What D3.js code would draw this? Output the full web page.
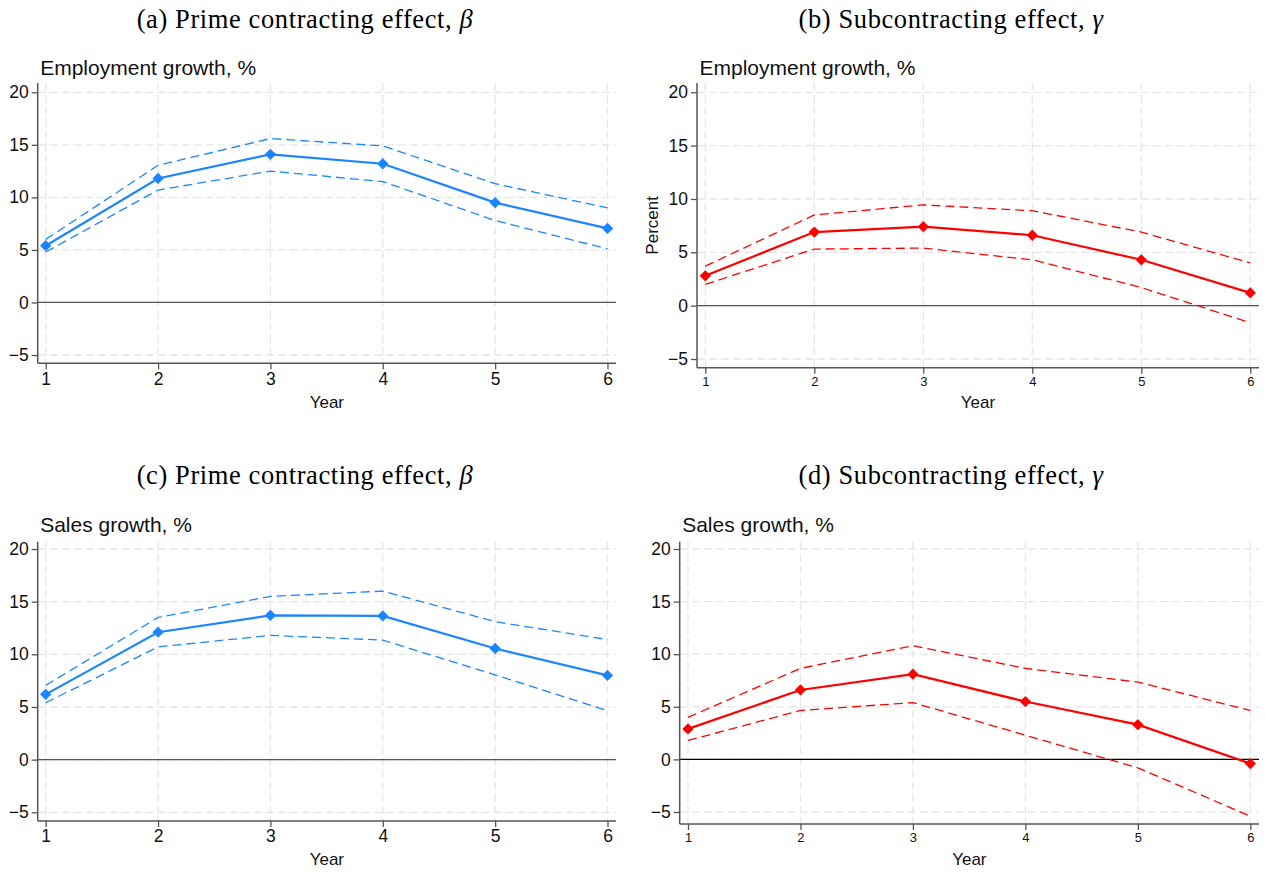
<!DOCTYPE html>
<html>
<head>
<meta charset="utf-8">
<script src="https://cdn.jsdelivr.net/npm/d3@7"></script>
<style>
  html, body { margin: 0; padding: 0; background: #fff; }
  svg { display: block; }
</style>
</head>
<body>
<div id="chart"></div>
<script>
// Data
const years = [1, 2, 3, 4, 5, 6];
const yTicks = [-5, 0, 5, 10, 15, 20];

const empPrimeEst = [5.4, 11.8, 14.1, 13.2, 9.5, 7.05];
const empPrimeHi  = [6.0, 13.05, 15.6, 14.9, 11.3, 9.0];
const empPrimeLo  = [4.8, 10.7, 12.5, 11.5, 7.8, 5.1];

const empSubEst = [2.8, 6.9, 7.4, 6.6, 4.3, 1.2];
const empSubHi  = [3.7, 8.5, 9.45, 8.9, 6.9, 4.0];
const empSubLo  = [2.0, 5.3, 5.4, 4.3, 1.7, -1.6];

const salesPrimeEst = [6.2, 12.1, 13.7, 13.65, 10.55, 8.0];
const salesPrimeHi  = [7.05, 13.5, 15.5, 16.0, 13.1, 11.4];
const salesPrimeLo  = [5.4, 10.7, 11.8, 11.35, 8.05, 4.65];

const salesSubEst = [2.9, 6.6, 8.1, 5.5, 3.3, -0.4];
const salesSubHi  = [4.0, 8.65, 10.8, 8.65, 7.35, 4.65];
const salesSubLo  = [1.8, 4.65, 5.4, 2.3, -0.8, -5.4];

// title text + greek symbol (set in italic)
const titles = [
  ["(a) Prime contracting effect, ", "\u03b2"],
  ["(b) Subcontracting effect, ", "\u03b3"],
  ["(c) Prime contracting effect, ", "\u03b2"],
  ["(d) Subcontracting effect, ", "\u03b3"]
];
const subtitles = ["Employment growth, %", "Employment growth, %", "Sales growth, %", "Sales growth, %"];

const blue = "#1a85ff";
const red = "#ff0000";

// Panel layout (pixel geometry only)
const panels = [
  { title: titles[0], sub: subtitles[0], est: empPrimeEst, hi: empPrimeHi, lo: empPrimeLo, color: blue,
    left: 37.7, right: 616, top: 83, bottom: 363.3, x0: 45.7, x1: 607.5, yLo: 355, yHi: 92.3,
    titleX: 305, titleY: 28, subY: 75, xLabY: 408, xTickSize: 17.5, zeroColor: "#555", yTitle: null },
  { title: titles[1], sub: subtitles[1], est: empSubEst, hi: empSubHi, lo: empSubLo, color: red,
    left: 697, right: 1259, top: 83, bottom: 367.7, x0: 705.3, x1: 1250.3, yLo: 359, yHi: 92.3,
    titleX: 951, titleY: 28, subY: 75, xLabY: 408, xTickSize: 13, zeroColor: "#555", yTitle: "Percent" },
  { title: titles[2], sub: subtitles[2], est: salesPrimeEst, hi: salesPrimeHi, lo: salesPrimeLo, color: blue,
    left: 37.7, right: 616, top: 541.7, bottom: 821, x0: 45.7, x1: 607.5, yLo: 812.3, yHi: 549,
    titleX: 305, titleY: 484, subY: 531.5, xLabY: 865, xTickSize: 17.5, zeroColor: "#555", yTitle: null },
  { title: titles[3], sub: subtitles[3], est: salesSubEst, hi: salesSubHi, lo: salesSubLo, color: red,
    left: 679.7, right: 1259, top: 541.7, bottom: 824, x0: 688, x1: 1250.3, yLo: 812, yHi: 549,
    titleX: 951, titleY: 484, subY: 531.5, xLabY: 865, xTickSize: 13, zeroColor: "#000", yTitle: null }
];

const svg = d3.select("#chart").append("svg")
  .attr("width", 1265)
  .attr("height", 873);

const sans = "'Liberation Sans', Arial, Helvetica, sans-serif";
const serif = "'Liberation Serif', 'Times New Roman', serif";

panels.forEach(p => {
  const g = svg.append("g");
  const x = d3.scaleLinear().domain([1, 6]).range([p.x0, p.x1]);
  const y = d3.scaleLinear().domain([-5, 20]).range([p.yLo, p.yHi]);

  // Panel title (serif, LaTeX style)
  const t = g.append("text")
    .attr("x", p.titleX).attr("y", p.titleY)
    .attr("text-anchor", "middle")
    .attr("font-family", serif)
    .attr("font-size", 26.5)
    .attr("letter-spacing", 0.6)
    .attr("fill", "#000");
  t.append("tspan").text(p.title[0]);
  t.append("tspan").attr("font-style", "italic").text(p.title[1]);

  // Subtitle
  g.append("text")
    .attr("x", p.left + 2.5).attr("y", p.subY)
    .attr("font-family", sans)
    .attr("font-size", 21)
    .attr("fill", "#111")
    .text(p.sub);

  // Grid lines
  g.append("g").selectAll("line.hgrid")
    .data(yTicks)
    .join("line")
    .attr("x1", p.left).attr("x2", p.right)
    .attr("y1", d => y(d)).attr("y2", d => y(d))
    .attr("stroke", "#e6e6e6")
    .attr("stroke-width", 1.3)
    .attr("stroke-dasharray", "8,4");

  g.append("g").selectAll("line.vgrid")
    .data(years)
    .join("line")
    .attr("x1", d => x(d)).attr("x2", d => x(d))
    .attr("y1", p.top).attr("y2", p.bottom)
    .attr("stroke", "#e6e6e6")
    .attr("stroke-width", 1.3)
    .attr("stroke-dasharray", "8,4");

  // Zero reference line
  g.append("line")
    .attr("x1", p.left).attr("x2", p.right)
    .attr("y1", y(0)).attr("y2", y(0))
    .attr("stroke", p.zeroColor)
    .attr("stroke-width", 1.3);

  // Y axis
  const yAxis = g.append("g")
    .attr("transform", `translate(${p.left},0)`)
    .call(d3.axisLeft(y).tickValues(yTicks).tickSize(6).tickPadding(3)
      .tickFormat(d => d < 0 ? "\u2212" + Math.abs(d) : d));
  yAxis.select(".domain").remove();
  yAxis.selectAll(".tick line").attr("stroke", "#555").attr("stroke-width", 1.3);
  yAxis.selectAll(".tick text")
    .attr("font-family", sans).attr("font-size", 17.5).attr("fill", "#111");
  g.append("line")
    .attr("x1", p.left).attr("x2", p.left)
    .attr("y1", p.top).attr("y2", p.bottom)
    .attr("stroke", "#555").attr("stroke-width", 1.5);

  // X axis
  const xAxis = g.append("g")
    .attr("transform", `translate(0,${p.bottom})`)
    .call(d3.axisBottom(x).tickValues(years).tickSize(6).tickPadding(3).tickFormat(d3.format("d")));
  xAxis.select(".domain").remove();
  xAxis.selectAll(".tick line").attr("stroke", "#555").attr("stroke-width", 1.3);
  xAxis.selectAll(".tick text")
    .attr("font-family", sans).attr("font-size", p.xTickSize).attr("fill", "#111");
  g.append("line")
    .attr("x1", p.left).attr("x2", p.right)
    .attr("y1", p.bottom).attr("y2", p.bottom)
    .attr("stroke", "#555").attr("stroke-width", 1.5);

  // Axis titles
  g.append("text")
    .attr("x", (p.left + p.right) / 2).attr("y", p.xLabY)
    .attr("text-anchor", "middle")
    .attr("font-family", sans).attr("font-size", 17).attr("fill", "#111")
    .text("Year");

  if (p.yTitle) {
    g.append("text")
      .attr("transform", `translate(${p.left - 39},${(p.top + p.bottom) / 2}) rotate(-90)`)
      .attr("text-anchor", "middle")
      .attr("font-family", sans).attr("font-size", 17).attr("fill", "#111")
      .text(p.yTitle);
  }

  // Confidence bands (dashed) and point estimates
  const line = d3.line().x((d, i) => x(years[i])).y(d => y(d));

  [p.hi, p.lo].forEach(series => {
    g.append("path")
      .attr("d", line(series))
      .attr("fill", "none")
      .attr("stroke", p.color)
      .attr("stroke-width", 1.3)
      .attr("stroke-dasharray", "9,5");
  });

  g.append("path")
    .attr("d", line(p.est))
    .attr("fill", "none")
    .attr("stroke", p.color)
    .attr("stroke-width", 2.2);

  g.append("g").selectAll("path")
    .data(p.est)
    .join("path")
    .attr("d", d3.symbol(d3.symbolSquare, 64))
    .attr("transform", (d, i) => `translate(${x(years[i])},${y(d)}) rotate(45)`)
    .attr("fill", p.color);
});
</script>
</body>
</html>
